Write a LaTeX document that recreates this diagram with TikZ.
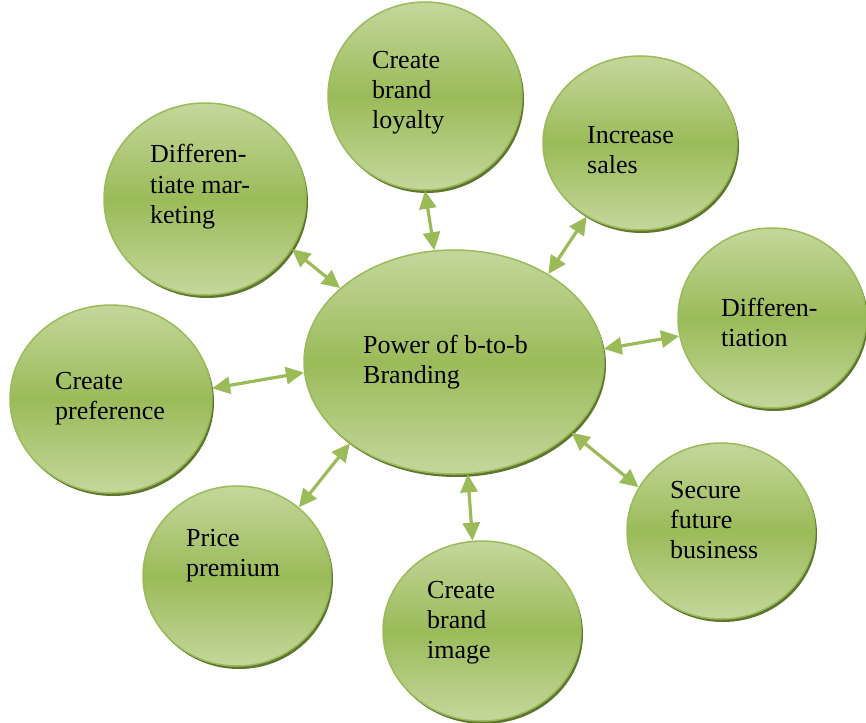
\documentclass[tikz,border=0pt]{standalone}
\usepackage{fontspec}
\setmainfont{Liberation Serif}
\usetikzlibrary{arrows.meta,shapes.geometric}
\definecolor{gLight}{HTML}{C4D79C}
\definecolor{gMid}{HTML}{9BBB59}
\definecolor{gEdge}{HTML}{9BBB59}
\definecolor{gShadow}{HTML}{5F7530}
\definecolor{gArrow}{HTML}{9BBB59}
\tikzset{
  bubble/.style={ellipse, inner sep=0pt, draw=gEdge, line width=1.5pt,
    top color=gLight, bottom color=gLight, middle color=gMid,
    preaction={fill=gShadow, transform canvas={xshift=2pt,yshift=-3pt}}},
  txt/.style={anchor=base west, inner sep=0pt, font=\fontsize{26}{30}\selectfont},
  link/.style={draw=gArrow, line width=3.2pt,
    {Triangle[length=18pt,width=17pt]}-{Triangle[length=18pt,width=17pt]}}
}
\newcommand{\lines}[1]{\begin{tabular}[t]{@{}l@{}}#1\end{tabular}}
\begin{document}
\begin{tikzpicture}[x=1pt,y=-1pt]
\useasboundingbox (0,0) rectangle (866,722);
\node[bubble, minimum width=300pt, minimum height=224pt] (c) at (454,362) {};
\node[bubble, minimum width=194pt, minimum height=188pt] (loyal) at (425,96) {};
\node[bubble, minimum width=194pt, minimum height=174pt] (sales) at (640,143) {};
\node[bubble, minimum width=188pt, minimum height=180pt] (diff) at (772,318) {};
\node[bubble, minimum width=188pt, minimum height=176pt] (secure) at (721,531) {};
\node[bubble, minimum width=198pt, minimum height=180pt] (image) at (482,631) {};
\node[bubble, minimum width=188pt, minimum height=180pt] (price) at (237,576) {};
\node[bubble, minimum width=202pt, minimum height=188pt] (pref) at (111,399) {};
\node[bubble, minimum width=202pt, minimum height=192pt] (dm) at (205,199) {};

\node[txt] (tc) at (363,353) {\lines{Power of b-to-b\\Branding}};
\node[txt] (tloyal) at (372,69) {\lines{Create\\brand\\loyalty}};
\node[txt] (tsales) at (587,144) {\lines{Increase\\sales}};
\node[txt] (tdiff) at (721,316) {\lines{Differen-\\tiation}};
\node[txt] (tsecure) at (670,498) {\lines{Secure\\future\\business}};
\node[txt] (timage) at (427,598) {\lines{Create\\brand\\image}};
\node[txt] (tprice) at (186,546) {\lines{Price\\premium}};
\node[txt] (tpref) at (55,389) {\lines{Create\\preference}};
\node[txt] (tdm) at (150,163) {\lines{Differen-\\tiate mar-\\keting}};

\draw[link] (c.100.8) -- (loyal.270);
\draw[link] (c.43.4) -- (sales.234.9);
\draw[link] (c.5) -- (diff.191.2);
\draw[link] (c.-31.7) -- (secure.152.6);
\draw[link] (c.-83.1) -- (image.96.3);
\draw[link] (c.218.7) -- (price.48.8);
\draw[link] (c.184.9) -- (pref.6.6);
\draw[link] (c.147.8) -- (dm.-30.1);
\end{tikzpicture}
\end{document}
